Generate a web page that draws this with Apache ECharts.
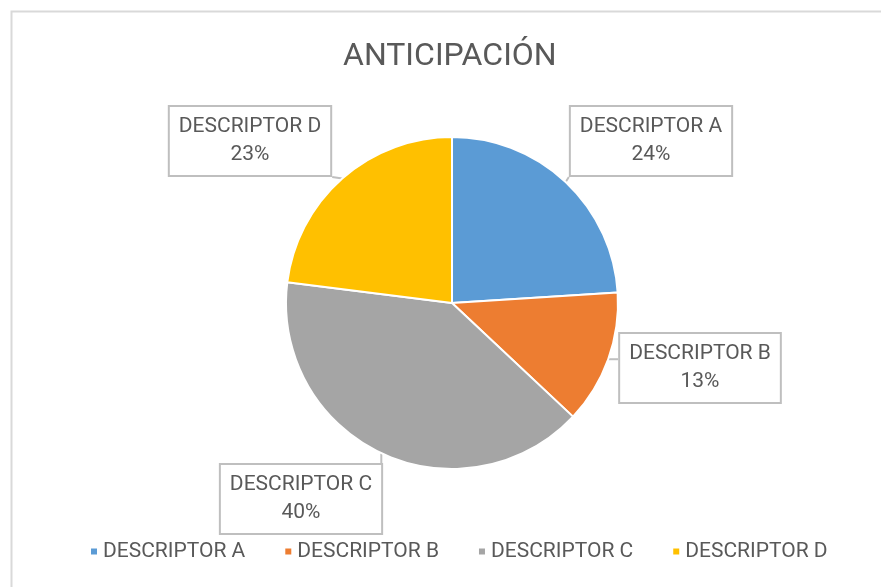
<!DOCTYPE html>
<html>
<head>
<meta charset="utf-8">
<script src="https://cdn.jsdelivr.net/npm/echarts@6/dist/echarts.min.js"></script>
<style>html,body{margin:0;padding:0;background:#fff}#c{width:881px;height:587px}</style>
</head>
<body>
<div id="c"></div>
<script>
const titleText = 'ANTICIPACIÓN';
const categories = ['DESCRIPTOR A', 'DESCRIPTOR B', 'DESCRIPTOR C', 'DESCRIPTOR D'];
const values = [24, 13, 40, 23];
const colors = ['#5B9BD5', '#ED7D31', '#A5A5A5', '#FFC000'];
// label box centres (layout only)
const labelCenters = [[651, 141], [700, 368], [301, 499], [250, 141]];

const FONT = 'Roboto, "Liberation Sans", sans-serif';
const chart = echarts.init(document.getElementById('c'));

chart.setOption({
  animation: false,
  backgroundColor: '#fff',
  title: {
    text: titleText, left: 343, top: 41, padding: 0,
    textStyle: { color: '#595959', fontSize: 32, fontWeight: 'normal', fontFamily: FONT }
  },
  graphic: [{
    type: 'rect', left: 9, top: 9, z: -1,
    shape: { width: 900, height: 600 },
    style: { fill: 'none', stroke: '#d9d9d9', lineWidth: 2 }
  }],
  legend: {
    bottom: 20, left: 84, icon: 'rect', itemWidth: 8, itemHeight: 8, itemGap: 38,
    textStyle: { color: '#595959', fontSize: 21, fontFamily: FONT },
    data: categories
  },
  series: [{
    type: 'pie',
    center: [452, 303], radius: 166,
    startAngle: 90, clockwise: true,
    itemStyle: { borderColor: '#fff', borderWidth: 2 },
    data: categories.map((c, i) => ({ name: c, value: values[i], itemStyle: { color: colors[i] } })),
    label: {
      show: true,
      formatter: '{b}\n{d}%',
      color: '#595959', fontSize: 21, fontFamily: FONT, lineHeight: 28,
      backgroundColor: '#fff', borderColor: '#bfbfbf', borderWidth: 2,
      padding: [6, 9, 6, 9], align: 'center'
    },
    labelLine: { show: true, length: 10, length2: 10, lineStyle: { color: '#bfbfbf', width: 2 } },
    labelLayout: function (p) {
      const ctr = labelCenters[p.dataIndex];
      const w = p.labelRect.width, h = p.labelRect.height;
      const x0 = ctr[0] - w / 2, x1 = ctr[0] + w / 2, y0 = ctr[1] - h / 2, y1 = ctr[1] + h / 2;
      const a = p.labelLinePoints ? p.labelLinePoints[0] : ctr;
      const ex = Math.min(Math.max(a[0], x0), x1);
      const ey = Math.min(Math.max(a[1], y0), y1);
      return {
        x: ctr[0], y: ctr[1], align: 'center', verticalAlign: 'middle',
        labelLinePoints: [[a[0], a[1]], [(a[0] + ex) / 2, (a[1] + ey) / 2], [ex, ey]]
      };
    }
  }]
});
</script>
</body>
</html>
